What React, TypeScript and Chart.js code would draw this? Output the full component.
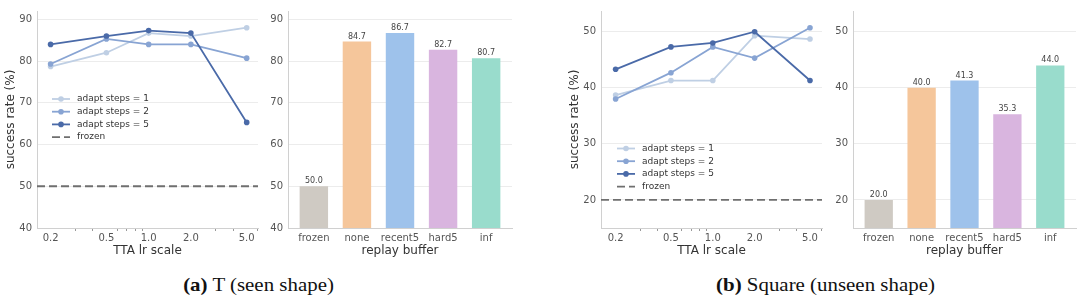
import React, { useEffect, useRef } from 'react';
import { Chart, registerables } from 'chart.js';

Chart.register(...registerables);

// ---------------- data ----------------
const LR_SCALES = [0.2, 0.5, 1.0, 2.0, 5.0];
const LR_MINOR = [0.3, 0.4, 0.6, 0.7, 0.8, 0.9, 3, 4, 6];
const SERIES_LABELS = ['adapt steps = 1', 'adapt steps = 2', 'adapt steps = 5'];
const FROZEN_LABEL = 'frozen';

const T_STEPS1 = [78.7, 82.0, 86.7, 86.0, 88.0];
const T_STEPS2 = [79.3, 85.3, 84.0, 84.0, 80.7];
const T_STEPS5 = [84.0, 86.0, 87.3, 86.7, 65.3];
const T_FROZEN = 50.0;

const SQ_STEPS1 = [38.7, 41.3, 41.3, 49.3, 48.7];
const SQ_STEPS2 = [38.0, 42.7, 47.3, 45.3, 50.7];
const SQ_STEPS5 = [43.3, 47.3, 48.0, 50.0, 41.3];
const SQ_FROZEN = 20.0;

const REPLAY_LABELS = ['frozen', 'none', 'recent5', 'hard5', 'inf'];
const T_REPLAY = [50.0, 84.7, 86.7, 82.7, 80.7];
const SQ_REPLAY = [20.0, 40.0, 41.3, 35.3, 44.0];

const T_YTICKS = [40, 50, 60, 70, 80, 90];
const SQ_YTICKS = [20, 30, 40, 50];

// ---------------- styles ----------------
const FONT = "'DejaVu Sans', sans-serif";
const SERIES_COLORS = ['#bfcfe4', '#88a4d3', '#4a6aa8'];
const FROZEN_COLOR = '#6f6f6f';
const BAR_COLORS = ['#cfcac3', '#f5c69b', '#9ec2eb', '#d9b5df', '#99dccc'];
const GRID_COLOR = '#ececec';
const AXIS_COLOR = '#d0d0d0';
const TICK_COLOR = '#555555';
const TITLE_COLOR = '#333333';

const inlineLegend = {
  id: 'inlineLegend',
  afterDraw(chart: any, _args: any, opts: any) {
    if (!opts || !opts.show) return;
    const { ctx, chartArea } = chart;
    const x0 = chartArea.left + opts.dx;
    const y0 = chartArea.top + opts.dy;
    ctx.save();
    chart.data.datasets.forEach((ds: any, i: number) => {
      const y = y0 + i * opts.rowGap;
      ctx.strokeStyle = ds.borderColor;
      ctx.lineWidth = ds.borderWidth;
      ctx.setLineDash(ds.borderDash || []);
      ctx.beginPath();
      ctx.moveTo(x0, y);
      ctx.lineTo(x0 + 18, y);
      ctx.stroke();
      ctx.setLineDash([]);
      if (ds.pointRadius > 0) {
        ctx.fillStyle = ds.borderColor;
        ctx.beginPath();
        ctx.arc(x0 + 9, y, ds.pointRadius, 0, Math.PI * 2);
        ctx.fill();
      }
      ctx.fillStyle = '#333';
      ctx.font = `9px ${FONT}`;
      ctx.textBaseline = 'middle';
      ctx.textAlign = 'left';
      ctx.fillText(ds.label, x0 + 25, y);
    });
    ctx.restore();
  },
};

const barValueLabels = {
  id: 'barValueLabels',
  afterDatasetsDraw(chart: any) {
    const { ctx } = chart;
    const meta = chart.getDatasetMeta(0);
    const values = chart.data.datasets[0].data;
    ctx.save();
    ctx.fillStyle = '#444';
    ctx.font = `8px ${FONT}`;
    ctx.textAlign = 'center';
    ctx.textBaseline = 'bottom';
    meta.data.forEach((el: any, i: number) => {
      ctx.fillText(values[i].y.toFixed(1), el.x, el.y - 1);
    });
    ctx.restore();
  },
};

function yAxis(yMin: number, yMax: number, yTicks: number[], width: number, withTitle: boolean) {
  return {
    type: 'linear',
    min: yMin,
    max: yMax,
    afterBuildTicks: (scale: any) => {
      scale.ticks = yTicks.map((v) => ({ value: v }));
    },
    afterFit: (scale: any) => {
      scale.width = width;
    },
    grid: { color: GRID_COLOR, lineWidth: 1, drawTicks: false },
    border: { display: true, color: AXIS_COLOR, width: 1 },
    ticks: { color: TICK_COLOR, font: { family: FONT, size: 10 }, padding: 5 },
    title: {
      display: withTitle,
      text: 'success rate (%)',
      color: TITLE_COLOR,
      font: { family: FONT, size: 12 },
      padding: { top: 4, bottom: 0 },
    },
  };
}

function lineConfig(
  s1: number[], s2: number[], s5: number[], frozen: number,
  xMin: number, xMax: number, yMin: number, yMax: number, yTicks: number[],
  legendDx: number, legendDy: number,
): any {
  const series = [s1, s2, s5];
  const datasets: any[] = series.map((vals, i) => ({
    label: SERIES_LABELS[i],
    data: LR_SCALES.map((x, j) => ({ x, y: vals[j] })),
    borderColor: SERIES_COLORS[i],
    backgroundColor: SERIES_COLORS[i],
    pointBackgroundColor: SERIES_COLORS[i],
    borderWidth: 1.8,
    pointRadius: 2.8,
    pointBorderWidth: 0,
    tension: 0,
    order: 3 - i,
  }));
  datasets.push({
    label: FROZEN_LABEL,
    data: [{ x: xMin, y: frozen }, { x: xMax, y: frozen }],
    borderColor: FROZEN_COLOR,
    backgroundColor: FROZEN_COLOR,
    borderWidth: 1.8,
    borderDash: [8, 4],
    pointRadius: 0,
    order: 0,
  });
  const allTicks = [...LR_SCALES, ...LR_MINOR].filter((v) => v >= xMin && v <= xMax).sort((a, b) => a - b);
  return {
    type: 'line',
    data: { datasets },
    plugins: [inlineLegend],
    options: {
      animation: false,
      responsive: false,
      devicePixelRatio: 1,
      layout: { padding: { top: 4, right: 4, left: 0, bottom: 0 } },
      scales: {
        x: {
          type: 'logarithmic',
          min: xMin,
          max: xMax,
          afterBuildTicks: (scale: any) => {
            scale.ticks = allTicks.map((v) => ({ value: v }));
          },
          afterFit: (scale: any) => {
            scale.height = 34;
          },
          grid: {
            drawOnChartArea: false,
            drawTicks: true,
            tickLength: 3,
            color: (ctx: any) => (ctx.tick && LR_SCALES.includes(ctx.tick.value) ? 'rgba(0,0,0,0)' : '#999999'),
          },
          border: { display: true, color: AXIS_COLOR, width: 1 },
          ticks: {
            autoSkip: false,
            maxRotation: 0,
            padding: 1,
            color: TICK_COLOR,
            font: { family: FONT, size: 10 },
            callback: (v: any) => (LR_SCALES.includes(Number(v)) ? Number(v).toFixed(1) : ''),
          },
          title: {
            display: true,
            text: 'TTA lr scale',
            color: TITLE_COLOR,
            font: { family: FONT, size: 12 },
            padding: { top: 0, bottom: 4 },
          },
        },
        y: yAxis(yMin, yMax, yTicks, 37, true),
      },
      plugins: {
        legend: { display: false },
        tooltip: { enabled: false },
        inlineLegend: { show: true, dx: legendDx, dy: legendDy, rowGap: 12.7 },
      },
    },
  };
}

function barConfig(values: number[], yMin: number, yMax: number, yTicks: number[], yWidth: number): any {
  return {
    type: 'bar',
    data: {
      datasets: [
        {
          label: 'replay buffer',
          data: values.map((v, i) => ({ x: i, y: v })),
          backgroundColor: BAR_COLORS,
          borderWidth: 0,
          categoryPercentage: 1,
          barPercentage: 0.66,
        },
      ],
    },
    plugins: [barValueLabels],
    options: {
      animation: false,
      responsive: false,
      devicePixelRatio: 1,
      layout: { padding: { top: 4, right: 4, left: 0, bottom: 0 } },
      scales: {
        x: {
          type: 'linear',
          offset: false,
          min: -0.6,
          max: REPLAY_LABELS.length - 0.4,
          afterBuildTicks: (scale: any) => {
            scale.ticks = REPLAY_LABELS.map((_, i) => ({ value: i }));
          },
          afterFit: (scale: any) => {
            scale.height = 34;
          },
          grid: { display: false, drawTicks: false },
          border: { display: true, color: AXIS_COLOR, width: 1 },
          ticks: {
            autoSkip: false,
            maxRotation: 0,
            padding: 4,
            color: TICK_COLOR,
            font: { family: FONT, size: 10 },
            callback: (v: any) => REPLAY_LABELS[Number(v)] ?? '',
          },
          title: {
            display: true,
            text: 'replay buffer',
            color: TITLE_COLOR,
            font: { family: FONT, size: 12 },
            padding: { top: 0, bottom: 4 },
          },
        },
        y: yAxis(yMin, yMax, yTicks, yWidth, false),
      },
      plugins: {
        legend: { display: false },
        tooltip: { enabled: false },
      },
    },
  };
}

function ChartCanvas({ makeConfig, left, width, height }: { makeConfig: () => any; left: number; width: number; height: number }) {
  const ref = useRef<HTMLCanvasElement>(null);
  useEffect(() => {
    const chart = new Chart(ref.current as HTMLCanvasElement, makeConfig());
    return () => chart.destroy();
  }, []);
  return (
    <canvas
      ref={ref}
      width={width}
      height={height}
      style={{ position: 'absolute', left, top: 0, width, height }}
    />
  );
}

function Caption({ center, tag, text }: { center: number; tag: string; text: string }) {
  return (
    <div
      style={{
        position: 'absolute',
        left: center - 200,
        top: 275,
        width: 400,
        textAlign: 'center',
        fontFamily: "'Liberation Serif', serif",
        fontSize: 19,
        lineHeight: '19px',
        color: '#111',
      }}
    >
      <span style={{ display: 'inline-block', transform: 'scaleX(1.1)' }}>
        <b>({tag})</b> {text}
      </span>
    </div>
  );
}

export default function App() {
  return (
    <div style={{ position: 'absolute', left: 0, top: 0, width: 1080, height: 306, background: '#fff', overflow: 'hidden' }}>
      <ChartCanvas
        left={0}
        width={262}
        height={262}
        makeConfig={() => lineConfig(T_STEPS1, T_STEPS2, T_STEPS5, T_FROZEN, 0.16, 6.02, 40, 92, T_YTICKS, 15, 88)}
      />
      <ChartCanvas left={262} width={254} height={262} makeConfig={() => barConfig(T_REPLAY, 40, 92, T_YTICKS, 26)} />
      <ChartCanvas
        left={564}
        width={262}
        height={262}
        makeConfig={() => lineConfig(SQ_STEPS1, SQ_STEPS2, SQ_STEPS5, SQ_FROZEN, 0.157, 6.1, 15, 53.7, SQ_YTICKS, 16, 137.5)}
      />
      <ChartCanvas left={826} width={254} height={262} makeConfig={() => barConfig(SQ_REPLAY, 15, 53.7, SQ_YTICKS, 27)} />
      <Caption center={259} tag="a" text="T (seen shape)" />
      <Caption center={825} tag="b" text="Square (unseen shape)" />
    </div>
  );
}
